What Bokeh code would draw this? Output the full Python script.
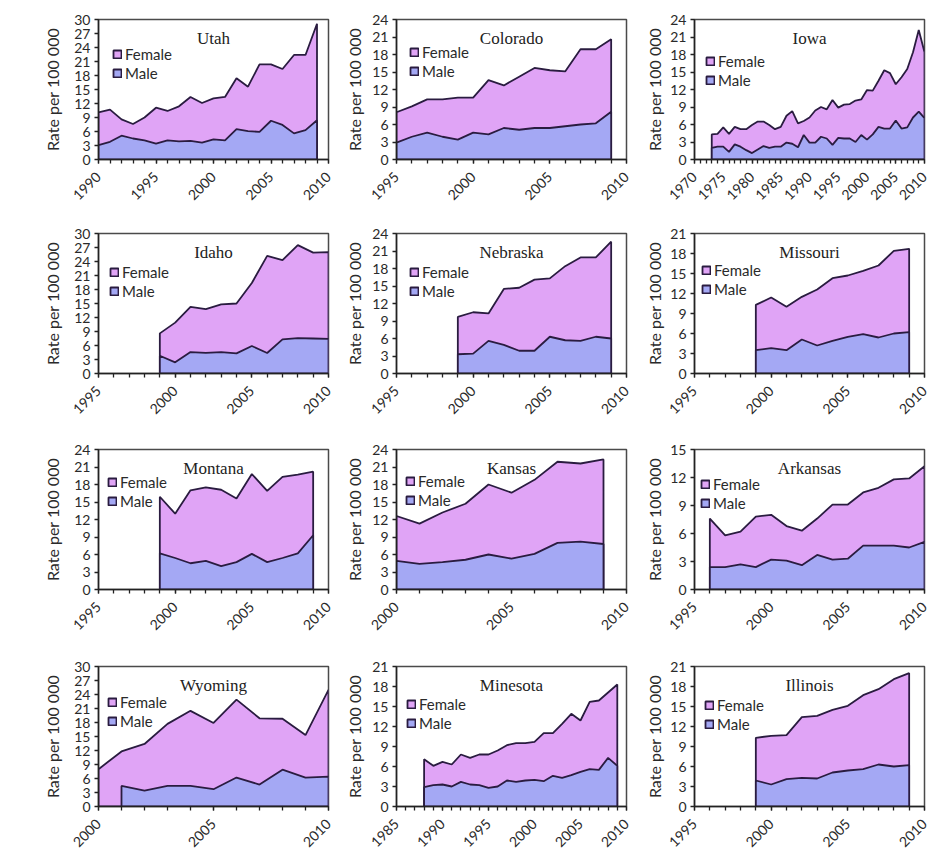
import math
import numpy as np
from bokeh.plotting import figure
from bokeh.models import Range1d, SingleIntervalTicker, Legend, LegendItem, Label
from bokeh.layouts import column, row
from bokeh.embed import file_html
from bokeh.resources import INLINE

# ---------------- data (rate per 100 000) ----------------
utah_years = list(range(1990, 2010))
utah_male = [3.1, 3.8, 5.1, 4.5, 4.1, 3.4, 4.1, 3.9, 4.0, 3.6, 4.3, 4.1, 6.5, 6.1, 5.9, 8.3, 7.4, 5.6, 6.3, 8.4]
utah_female = [7.0, 6.9, 3.5, 3.1, 4.9, 7.7, 6.3, 7.5, 9.4, 8.5, 8.8, 9.3, 10.9, 9.5, 14.5, 12.1, 12.0, 16.8, 16.1, 20.7]

colorado_years = list(range(1995, 2010))
colorado_male = [2.9, 3.9, 4.6, 3.9, 3.4, 4.6, 4.3, 5.4, 5.1, 5.4, 5.4, 5.7, 6.0, 6.2, 8.2]
colorado_female = [5.2, 5.2, 5.7, 6.4, 7.2, 6.0, 9.3, 7.3, 9.1, 10.3, 9.9, 9.4, 12.9, 12.7, 12.4]

iowa_years = list(range(1973, 2011))
iowa_male = [2.0, 2.2, 2.2, 1.3, 2.6, 2.2, 1.6, 1.1, 1.7, 2.3, 2.0, 2.2, 2.2, 2.9, 2.7, 2.1, 4.2, 2.9, 2.9,
             3.9, 3.6, 2.5, 3.7, 3.6, 3.6, 3.0, 4.2, 3.4, 4.3, 5.6, 5.3, 5.3, 6.7, 5.3, 5.5, 7.2, 8.2, 7.1]
iowa_female = [2.3, 2.2, 3.3, 3.1, 3.0, 3.0, 3.6, 4.8, 4.8, 4.2, 3.9, 3.0, 3.4, 4.6, 5.6, 4.1, 2.4, 4.3, 5.5,
               5.1, 5.0, 7.7, 5.2, 5.8, 5.9, 7.1, 6.1, 8.5, 7.5, 7.9, 10.0, 9.5, 6.2, 8.8, 10.0, 11.2, 14.0, 11.3]

idaho_years = list(range(1999, 2011))
idaho_male = [3.8, 2.4, 4.6, 4.4, 4.6, 4.3, 5.9, 4.4, 7.3, 7.6, 7.5, 7.4]
idaho_female = [4.8, 8.5, 9.7, 9.4, 10.2, 10.7, 13.5, 20.8, 17.0, 19.9, 18.4, 18.6]

nebraska_years = list(range(1999, 2010))
nebraska_male = [3.3, 3.4, 5.6, 4.9, 3.9, 3.9, 6.3, 5.7, 5.6, 6.3, 6.0]
nebraska_female = [6.4, 7.1, 4.7, 9.6, 10.8, 12.2, 10.0, 12.7, 14.3, 13.6, 16.6]

missouri_years = list(range(1999, 2010))
missouri_male = [3.5, 3.8, 3.5, 5.1, 4.2, 4.9, 5.5, 5.9, 5.4, 6.0, 6.2]
missouri_female = [6.8, 7.6, 6.5, 6.4, 8.4, 9.4, 9.2, 9.5, 10.8, 12.4, 12.5]

montana_years = list(range(1999, 2010))
montana_male = [6.2, 5.4, 4.5, 4.9, 4.0, 4.7, 6.1, 4.7, 5.4, 6.2, 9.3]
montana_female = [9.7, 7.6, 12.5, 12.6, 13.1, 10.9, 13.7, 12.2, 13.9, 13.5, 10.9]

kansas_years = list(range(2000, 2010))
kansas_male = [4.9, 4.4, 4.7, 5.1, 6.0, 5.3, 6.1, 8.0, 8.2, 7.8]
kansas_female = [7.7, 6.9, 8.5, 9.6, 12.0, 11.3, 12.7, 13.9, 13.4, 14.5]

arkansas_years = list(range(1996, 2011))
arkansas_male = [2.4, 2.4, 2.7, 2.4, 3.2, 3.1, 2.6, 3.7, 3.2, 3.3, 4.7, 4.7, 4.7, 4.5, 5.1]
arkansas_female = [5.2, 3.4, 3.5, 5.4, 4.8, 3.7, 3.7, 3.9, 5.9, 5.8, 5.7, 6.2, 7.1, 7.4, 8.1]

wyoming_years = list(range(2000, 2011))
wyoming_male = [None, 4.4, 3.4, 4.4, 4.4, 3.7, 6.2, 4.7, 7.9, 6.2, 6.4]
wyoming_female = [8.0, 7.4, 10.0, 13.3, 16.1, 14.2, 16.7, 14.2, 10.9, 9.1, 18.6]

minesota_years = list(range(1988, 2010))
minesota_male = [2.9, 3.2, 3.3, 3.0, 3.7, 3.3, 3.2, 2.8, 3.0, 3.9, 3.7, 3.9, 4.0, 3.8, 4.6, 4.3, 4.7, 5.2,
                 5.6, 5.5, 7.3, 6.1]
minesota_female = [4.2, 2.9, 3.4, 3.3, 4.1, 4.0, 4.6, 5.0, 5.4, 5.3, 5.8, 5.6, 5.7, 7.2, 6.4, 8.1, 9.2, 7.7,
                   10.1, 10.4, 9.8, 12.2]

illinois_years = list(range(1999, 2010))
illinois_male = [3.9, 3.3, 4.1, 4.3, 4.2, 5.1, 5.4, 5.6, 6.3, 6.0, 6.2]
illinois_female = [6.4, 7.3, 6.6, 9.1, 9.4, 9.4, 9.7, 11.1, 11.3, 13.1, 13.8]

# name, years, male, female, x-axis span, y-axis max
panels = [
    ("Utah", utah_years, utah_male, utah_female, (1990, 2010), 30),
    ("Colorado", colorado_years, colorado_male, colorado_female, (1995, 2010), 24),
    ("Iowa", iowa_years, iowa_male, iowa_female, (1970, 2010), 24),
    ("Idaho", idaho_years, idaho_male, idaho_female, (1995, 2010), 30),
    ("Nebraska", nebraska_years, nebraska_male, nebraska_female, (1995, 2010), 24),
    ("Missouri", missouri_years, missouri_male, missouri_female, (1995, 2010), 21),
    ("Montana", montana_years, montana_male, montana_female, (1995, 2010), 24),
    ("Kansas", kansas_years, kansas_male, kansas_female, (2000, 2010), 24),
    ("Arkansas", arkansas_years, arkansas_male, arkansas_female, (1995, 2010), 15),
    ("Wyoming", wyoming_years, wyoming_male, wyoming_female, (2000, 2010), 30),
    ("Minesota", minesota_years, minesota_male, minesota_female, (1985, 2010), 21),
    ("Illinois", illinois_years, illinois_male, illinois_female, (1995, 2010), 21),
]

# ---------------- style ----------------
PINK = "#E0A4F6"
BLUE = "#A4A8F4"
EDGE = "#2A1C40"
TXT = "#2a2a2a"
FRAME_W, FRAME_H = 230, 140
LEFT = [98, 58, 58]
LABEL_STANDOFF = [9, 5, 3]
TOP = [19, 12, 12, 12]
BOTTOM = [62, 64, 65, 42]
ITEM_H = 17
LEG_SPACING = 1
# legend placement inside each frame: (px from left edge, px from top edge to "Female" row centre)
LEGEND_POS = [(14, 36), (13, 34), (11, 43), (11, 40), (13, 40), (7, 38),
              (9, 34), (9, 33), (6, 36), (9, 37), (10, 39), (10, 40)]


def make_panel(i, name, years, male, female, xr, ymax):
    c, r = i % 3, i // 3
    p = figure(frame_width=FRAME_W, frame_height=FRAME_H, output_backend="svg", toolbar_location=None,
               x_range=Range1d(*xr), y_range=Range1d(0, ymax),
               min_border_left=LEFT[c], min_border_right=10,
               min_border_top=TOP[r], min_border_bottom=BOTTOM[r],
               background_fill_color="white", border_fill_color="white")
    yrs = np.array(years, dtype=float)
    m = np.array([np.nan if v is None else v for v in male], dtype=float)
    f = np.array(female, dtype=float)
    total = f + np.nan_to_num(m)
    valid = ~np.isnan(m)

    rt = p.patch(np.concatenate([yrs, yrs[::-1]]), np.concatenate([total, np.zeros(len(yrs))]),
                 fill_color=PINK, line_color=EDGE, line_width=1.8)
    my = yrs[valid]
    rm = p.patch(np.concatenate([my, my[::-1]]), np.concatenate([m[valid], np.zeros(len(my))]),
                 fill_color=BLUE, line_color=EDGE, line_width=1.8)

    p.xgrid.visible = False
    p.ygrid.visible = False
    p.outline_line_color = "#4a4a4a"
    p.outline_line_width = 1.5

    p.xaxis.ticker = SingleIntervalTicker(interval=5, num_minor_ticks=5)
    p.yaxis.ticker = SingleIntervalTicker(interval=3, num_minor_ticks=0)
    for ax in (p.xaxis[0], p.yaxis[0]):
        ax.axis_line_color = "#222"
        ax.axis_line_width = 1.5
        ax.major_tick_line_color = "#222"
        ax.minor_tick_line_color = "#222"
        ax.major_tick_line_width = 1.3
        ax.minor_tick_line_width = 1.3
        ax.major_tick_in = 0
        ax.major_tick_out = 4
        ax.minor_tick_in = 0
        ax.minor_tick_out = 4
        ax.major_label_text_font = "Lato"
        ax.major_label_text_font_size = "14px"
        ax.major_label_text_color = TXT
    p.yaxis.major_label_standoff = 4
    p.xaxis.major_label_standoff = 11
    p.xaxis.major_label_orientation = math.pi / 4
    p.yaxis.axis_label = "Rate per 100 000"
    p.yaxis.axis_label_text_font = "Lato"
    p.yaxis.axis_label_text_font_size = "16px"
    p.yaxis.axis_label_text_font_style = "normal"
    p.yaxis.axis_label_text_color = TXT
    p.yaxis.axis_label_standoff = LABEL_STANDOFF[c]

    p.add_layout(Label(x=(xr[0] + xr[1]) / 2, y=ymax * (1 - 19 / FRAME_H), text=name,
                       text_align="center", text_baseline="middle",
                       text_font="Liberation Serif", text_font_size="17px", text_color="#222"))

    lx, off = LEGEND_POS[i]
    leg_h = ITEM_H * 2 + LEG_SPACING
    legend = Legend(items=[LegendItem(label="Female", renderers=[rt]),
                           LegendItem(label="Male", renderers=[rm])],
                    location=(lx, FRAME_H - (off - ITEM_H / 2) - leg_h),
                    background_fill_alpha=0, border_line_alpha=0, padding=0, margin=0, spacing=LEG_SPACING,
                    glyph_width=10, glyph_height=10, label_height=14, label_standoff=3,
                    label_text_font="Lato", label_text_font_size="15px", label_text_color=TXT)
    p.add_layout(legend)
    return p


figs = [make_panel(i, *pn) for i, pn in enumerate(panels)]
layout = column(*[row(*figs[k * 3:(k + 1) * 3]) for k in range(4)])

open("out.html", "w").write(file_html(layout, INLINE))
